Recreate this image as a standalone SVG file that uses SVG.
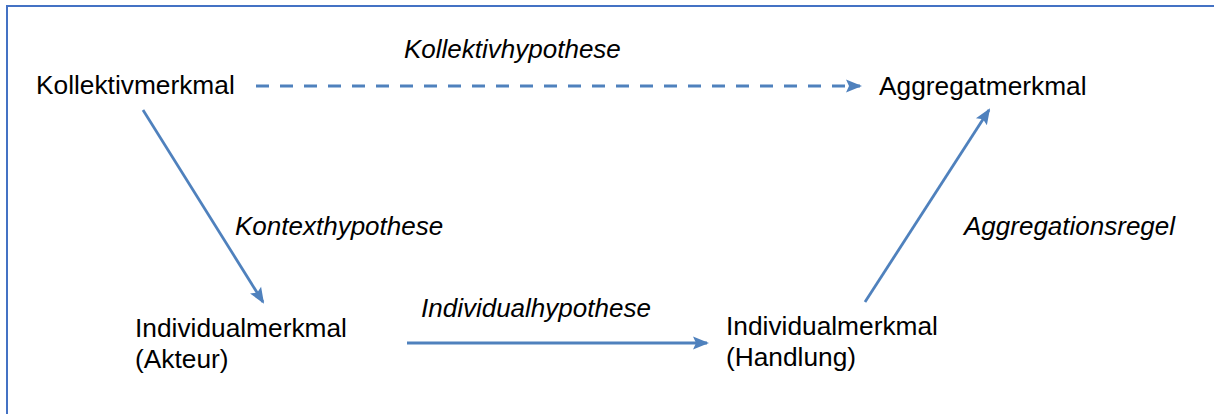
<svg xmlns="http://www.w3.org/2000/svg" width="1214" height="414" viewBox="0 0 1214 414">
<defs>
<style>
.lbl{font-family:"Liberation Sans",Arial,sans-serif;font-size:26.3px;fill:#000}
.hyp{font-family:"Liberation Sans",Arial,sans-serif;font-size:26px;font-style:italic;fill:#000}
.con{stroke:#4F81BD;stroke-width:2.8;fill:none}
.dash{stroke-dasharray:13 11}
</style>
<marker id="ah" markerUnits="userSpaceOnUse" markerWidth="16" markerHeight="16" viewBox="0 0 16 16" refX="14" refY="8" orient="auto">
<path d="M0,1.5 L16,8 L0,14.5 L3,8 z" fill="#4F81BD"/>
</marker>
</defs>
<rect width="1214" height="414" fill="#fff"/>
<path d="M7,414 V6 H1214" fill="none" stroke="#4472C4" stroke-width="2"/>
<g id="connectors">
<line class="con dash" x1="256" y1="86" x2="860" y2="86" marker-end="url(#ah)"/>
<line class="con" x1="143" y1="110" x2="263" y2="302" marker-end="url(#ah)"/>
<line class="con" x1="407" y1="343" x2="707" y2="343" marker-end="url(#ah)"/>
<line class="con" x1="865" y1="302" x2="989" y2="110" marker-end="url(#ah)"/>
</g>
<g id="edge-labels">
<text class="hyp" x="404" y="58">Kollektivhypothese</text>
<text class="hyp" x="235" y="235">Kontexthypothese</text>
<text class="hyp" x="421" y="317">Individualhypothese</text>
<text class="hyp" x="964" y="235">Aggregationsregel</text>
</g>
<g id="node-kollektivmerkmal">
<text class="lbl" x="36" y="94">Kollektivmerkmal</text>
</g>
<g id="node-aggregatmerkmal">
<text class="lbl" x="879" y="95">Aggregatmerkmal</text>
</g>
<g id="node-individual-akteur">
<text class="lbl" x="135" y="337">Individualmerkmal</text>
<text class="lbl" x="135" y="368">(Akteur)</text>
</g>
<g id="node-individual-handlung">
<text class="lbl" x="726" y="335">Individualmerkmal</text>
<text class="lbl" x="726" y="366">(Handlung)</text>
</g>
</svg>
